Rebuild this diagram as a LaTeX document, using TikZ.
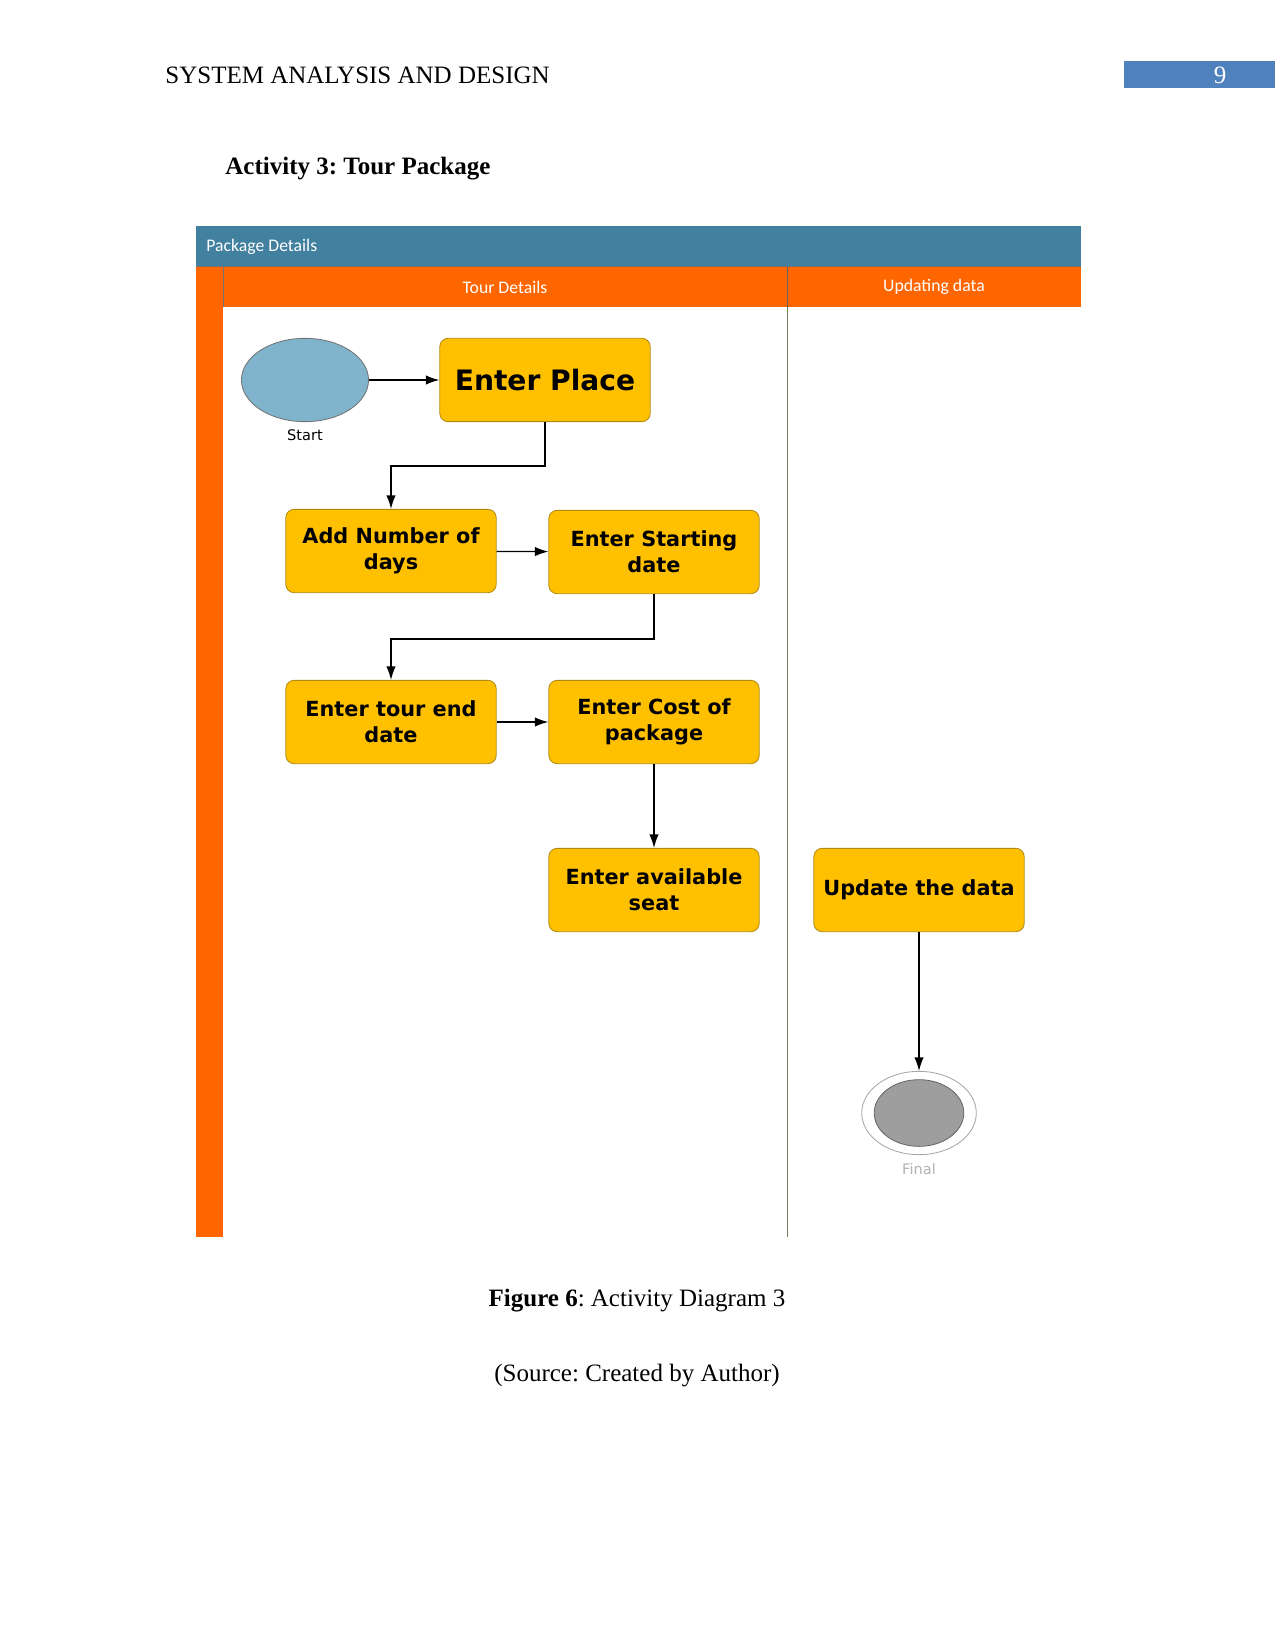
\documentclass[tikz,border=0pt]{standalone}
\usepackage{fontspec}
\setmainfont{Liberation Serif}
\newfontfamily\boxfont{DejaVu Sans}
\newfontfamily\lanefont{Carlito}
\usetikzlibrary{arrows.meta,shapes.geometric}
\frenchspacing

\definecolor{poolblue}{HTML}{41809F}
\definecolor{laneorange}{HTML}{FF6600}
\definecolor{actyellow}{HTML}{FFC000}
\definecolor{actedge}{HTML}{B08A10}
\definecolor{startblue}{HTML}{80B3CC}
\definecolor{pagenum}{HTML}{4F81BD}
\definecolor{laneline}{HTML}{6E7F5E}

\begin{document}
\begin{tikzpicture}[x=0.48pt,y=-0.48pt,
  act/.style={draw=actedge,fill=actyellow,rounded corners=4pt,
    minimum width=101pt,minimum height=40pt,align=center,
    font=\boxfont\bfseries\fontsize{10}{12.5}\selectfont,inner sep=1pt},
  arrow/.style={-{Latex[length=6.5pt,width=4.5pt]},draw=black,line width=0.6pt},
  lanelabel/.style={text=white,font=\lanefont\fontsize{8.5}{10}\selectfont},
  doc/.style={font=\fontsize{12}{14}\selectfont,inner sep=0pt}]
\useasboundingbox (0,0) rectangle (1275,1650);
% page header
\node[doc,anchor=west] (head) at (165,75) {SYSTEM ANALYSIS AND DESIGN};
\fill[pagenum] (1124,61) rectangle (1275,88);
\node[doc,text=white] (pnum) at (1220,75) {9};
\node[doc,anchor=west,font=\bfseries\fontsize{12}{14}\selectfont] (title) at (225,169) {Activity 3: Tour Package};
% swimlanes
\fill[poolblue] (196,226) rectangle (1081,266);
\fill[laneorange] (196,266) rectangle (1081,307);
\fill[laneorange] (196,266) rectangle (223,1237);
\draw[black!55,line width=0.4pt] (196,266) -- (1081,266);
\draw[black!55,line width=0.4pt] (223,307) -- (223,266);
\draw[black!60,line width=0.4pt] (787,266) -- (787,307);
\draw[laneline,line width=0.4pt] (787,307) -- (787,1237);
\node[lanelabel,anchor=west] (pool) at (199,247) {Package Details};
\node[lanelabel] (lane1) at (505,287) {Tour Details};
\node[lanelabel] (lane2) at (934,287) {Updating data};
% nodes
\node[ellipse,draw=black!55,fill=startblue,minimum width=61pt,minimum height=40pt] (start) at (305,380) {};
\node[font=\boxfont\fontsize{7}{8}\selectfont] (startlbl) at (305,435) {Start};
\node[act,font=\boxfont\bfseries\fontsize{13.5}{16}\selectfont] (place) at (545,380) {Enter Place};
\node[act] (days) at (391,551) {Add Number of\\days};
\node[act] (sdate) at (654,552) {Enter Starting\\date};
\node[act] (edate) at (391,722) {Enter tour end\\date};
\node[act] (cost) at (654,722) {Enter Cost of\\package};
\node[act] (seat) at (654,890) {Enter available\\seat};
\node[act] (update) at (919,890) {Update the data};
\node[ellipse,draw=black!35,fill=white,minimum width=55pt,minimum height=40pt] (final) at (919,1113) {};
\node[ellipse,draw=black!60,fill=black!38,minimum width=43pt,minimum height=32pt] (finalin) at (919,1113) {};
\node[text=black!30,font=\boxfont\fontsize{7}{8}\selectfont] (finallbl) at (919,1169) {Final};
% flow
\draw[arrow] (start) -- (place);
\draw[arrow] (place.south) -- ++(0,44) -| (days.north);
\draw[arrow] (days) -- (sdate);
\draw[arrow] (sdate.south) -- ++(0,45) -| (edate.north);
\draw[arrow] (edate) -- (cost);
\draw[arrow] (cost) -- (seat);
\draw[arrow] (update) -- (final);
% caption
\node[doc] (cap) at (637,1301) {\textbf{Figure 6}: Activity Diagram 3};
\node[doc] (src) at (637,1376) {(Source: Created by Author)};
\end{tikzpicture}
\end{document}
